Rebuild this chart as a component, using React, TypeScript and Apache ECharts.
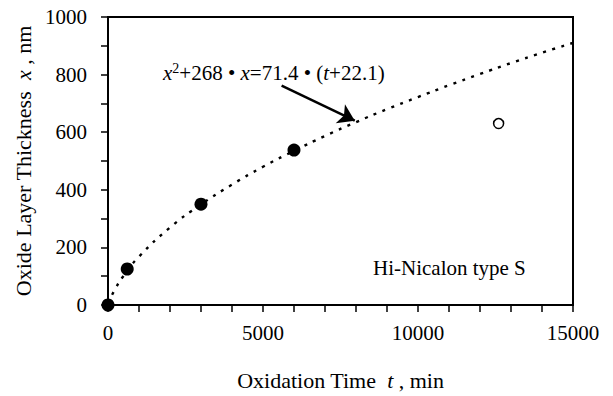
import React, { useEffect, useRef } from "react";
import * as echarts from "echarts";

// Measured oxide thickness (filled circles)
const measuredTime = [0, 620, 3000, 6000];
const measuredThickness = [0, 125, 350, 538];
// Open circle
const openTime = [12600];
const openThickness = [630];
// Dotted fitted curve
const curveTime = [0, 250, 500, 1000, 2000, 3000, 4000, 5000, 6000, 7000, 8000, 9000, 10000, 11000, 12000, 13000, 14000, 15000];
const curveThickness = [6, 59, 101, 168, 269, 349, 418, 480, 535, 587, 635, 680, 722, 763, 802, 840, 876, 910];
// Arrow annotation (start -> tip) in data units
const arrowFrom = [5600, 762];
const arrowTo = [7960, 640];

const xLabelTicks = [0, 5000, 10000, 15000];
const yLabelTicks = [0, 200, 400, 600, 800, 1000];

const FONT = "'Liberation Serif', 'Times New Roman', serif";

export default function App() {
  const ref = useRef<HTMLDivElement>(null);
  useEffect(() => {
    if (!ref.current) return;
    const chart = echarts.init(ref.current, undefined, { renderer: "svg" });
    const pair = (xs: number[], ys: number[]) => xs.map((x, i) => [x, ys[i]]);
    chart.setOption({
      animation: false,
      backgroundColor: "#fff",
      grid: {
        left: 108,
        right: 40,
        top: 17,
        bottom: 79,
        show: true,
        backgroundColor: "transparent",
        borderColor: "#000",
        borderWidth: 2,
        z: 0,
      },
      xAxis: {
        type: "value",
        min: 0,
        max: 15000,
        interval: 1000,
        z: 5,
        name: "{n|Oxidation Time  }{i|t}{n| , min}",
        nameLocation: "middle",
        nameGap: 64,
        nameTextStyle: {
          fontFamily: FONT,
          fontSize: 22,
          color: "#000",
          rich: {
            n: { fontFamily: FONT, fontSize: 22, color: "#000" },
            i: { fontFamily: FONT, fontSize: 22, fontStyle: "italic", color: "#000" },
          },
        },
        axisLine: { show: true, onZero: false, lineStyle: { color: "#000", width: 2 } },
        axisTick: { show: true, inside: false, length: 7, lineStyle: { color: "#000", width: 1.5 } },
        axisLabel: {
          fontFamily: FONT,
          fontSize: 21,
          color: "#000",
          margin: 17,
          formatter: (v: number) => (xLabelTicks.includes(v) ? String(v) : ""),
        },
        splitLine: { show: false },
      },
      yAxis: {
        type: "value",
        min: 0,
        max: 1000,
        interval: 100,
        z: 5,
        name: "{n|Oxide Layer Thickness  }{i|x}{n| , nm}",
        nameLocation: "middle",
        nameGap: 74,
        nameTextStyle: {
          fontFamily: FONT,
          fontSize: 22,
          color: "#000",
          rich: {
            n: { fontFamily: FONT, fontSize: 22, color: "#000" },
            i: { fontFamily: FONT, fontSize: 22, fontStyle: "italic", color: "#000" },
          },
        },
        axisLine: { show: true, onZero: false, lineStyle: { color: "#000", width: 2 } },
        axisTick: { show: true, inside: false, length: 7, lineStyle: { color: "#000", width: 1.5 } },
        axisLabel: {
          fontFamily: FONT,
          fontSize: 21,
          color: "#000",
          margin: 21,
          formatter: (v: number) => (yLabelTicks.includes(v) ? String(v) : ""),
        },
        splitLine: { show: false },
      },
      series: [
        {
          type: "line",
          data: pair(curveTime, curveThickness),
          smooth: true,
          showSymbol: false,
          lineStyle: { color: "#000", width: 2.4, type: [3, 6.5] },
          z: 2,
        },
        {
          type: "scatter",
          data: pair(measuredTime, measuredThickness),
          symbol: "circle",
          symbolSize: 13,
          itemStyle: { color: "#000", opacity: 1 },
          z: 3,
          markLine: {
            silent: true,
            symbol: ["none", "arrow"],
            symbolSize: 16,
            label: { show: false },
            lineStyle: { color: "#000", width: 2.5, type: "solid", opacity: 1 },
            data: [[{ coord: arrowFrom }, { coord: arrowTo }]],
          },
        },
        {
          type: "scatter",
          data: pair(openTime, openThickness),
          symbol: "circle",
          symbolSize: 10,
          itemStyle: { color: "#fff", borderColor: "#000", borderWidth: 1.5, opacity: 1 },
          z: 3,
        },
      ],
      graphic: [
        {
          type: "text",
          left: 163,
          top: 61,
          style: {
            text: "{i|x}{sup|2}{n|+268 • }{i|x}{n|=71.4 • (}{i|t}{n|+22.1)}",
            rich: {
              n: { fontFamily: FONT, fontSize: 21, color: "#000", lineHeight: 24 },
              i: { fontFamily: FONT, fontSize: 21, fontStyle: "italic", color: "#000", lineHeight: 24 },
              sup: { fontFamily: FONT, fontSize: 14, color: "#000", verticalAlign: "top", lineHeight: 24, padding: [0, 0, 8, 0] },
            },
          },
        },
        {
          type: "text",
          left: 373,
          top: 257,
          style: { text: "Hi-Nicalon type S", fontFamily: FONT, fontSize: 21, fill: "#000" },
        },
      ],
    });
    return () => chart.dispose();
  }, []);
  return <div ref={ref} style={{ position: "fixed", left: 0, top: 0, width: 613, height: 396 }} />;
}
